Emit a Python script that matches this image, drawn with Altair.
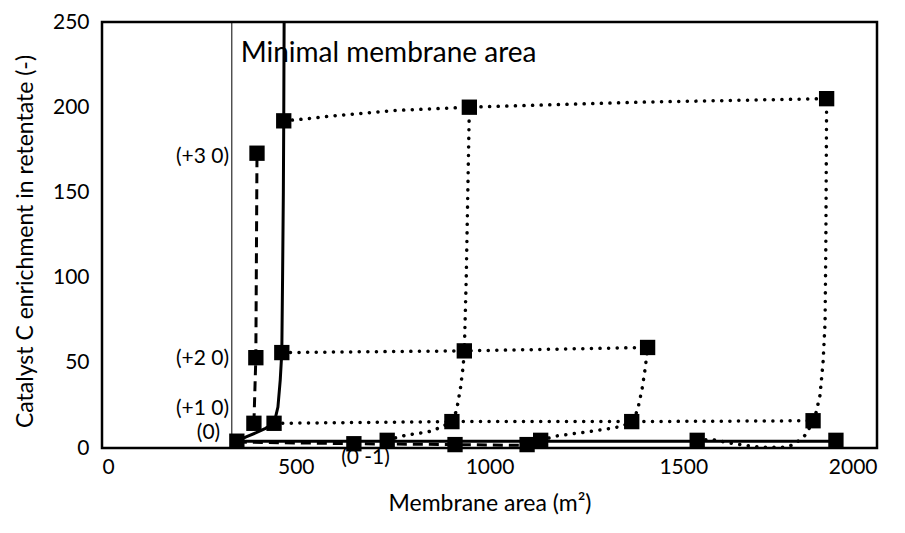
import altair as alt
import pandas as pd

FONT = "Lato"

# ---- line series (x = membrane area m², y = enrichment) ----
minimal_x = [348, 372, 398, 422, 444, 454, 460, 464, 466, 468, 469, 470]
minimal_y = [4, 6.5, 9, 11.5, 14.5, 24, 40, 56, 100, 150, 192, 250]

base_x = [348, 736, 1132, 1536, 1894]          # solid bottom line
base_y = [4, 4, 4, 4, 4]

minus_x = [348, 650, 911, 1097]                 # dashed bottom line (0 -1 ...)
minus_y = [3.5, 2.5, 2, 1.5]

plus_x = [392, 397, 400]                        # dashed vertical (+1 0)...(+3 0)
plus_y = [14.5, 53, 173]

row15_x = [444, 903, 1367, 1835]
row15_y = [14.5, 15.5, 15.5, 16]
row55_x = [464, 935, 1408]
row55_y = [56, 57, 59]
row200_x = [469, 520, 600, 750, 948, 1400, 1870]
row200_y = [192, 193, 195, 198, 200, 203, 205]

col1_x = [736, 774, 797, 818, 839, 857, 880, 903, 915, 925, 932, 935, 940, 944, 948]
col1_y = [4.5, 7, 8, 8.7, 9.3, 10.5, 12.8, 15.5, 22, 35, 48, 57, 100, 150, 200]
col2_x = [1132, 1171, 1220, 1270, 1320, 1342, 1367, 1382, 1394, 1402, 1408]
col2_y = [4.5, 7, 8.5, 10, 11.8, 12.8, 15.5, 22, 35, 47, 59]
col3_x = [1536, 1574, 1618, 1660, 1700, 1760, 1786, 1817, 1835, 1843, 1853, 1861, 1866, 1868, 1870]
col3_y = [4.5, 5, 3, 1.5, 0.4, 0.4, 2, 8, 16, 21, 31, 51, 74, 120, 205]

# ---- square markers ----
sq_x = [348, 650, 736, 911, 1097, 1132, 1536, 1894,
        392, 397, 400,
        444, 464, 469,
        903, 1367, 1835,
        935, 1408,
        948, 1870]
sq_y = [4, 2.5, 4.5, 2, 2, 4.5, 4.5, 4.5,
        14.5, 53, 173,
        14.5, 56, 192,
        15.5, 15.5, 16,
        57, 59,
        200, 205]

# minimal membrane area reference line
min_area = [335]

# annotations
ann_text = ["(+3 0)", "(+2 0)", "(+1 0)", "(0)"]
ann_x = [328, 328, 328, 305]
ann_y = [171, 52, 23, 9]
ann2_text = ["(0 -1)"]
ann2_x = [680]
ann2_y = [-6]
title_text = ["Minimal membrane area"]
title_x = [358]
title_y = [231]


def frame(xs, ys, name):
    return pd.DataFrame({"x": xs, "y": ys, "s": name, "o": list(range(len(xs)))})


solid_df = pd.concat([frame(minimal_x, minimal_y, "min"), frame(base_x, base_y, "base")])
dashed_df = pd.concat([frame(minus_x, minus_y, "minus"), frame(plus_x, plus_y, "plus")])
dotted_df = pd.concat([
    frame(row15_x, row15_y, "r15"), frame(row55_x, row55_y, "r55"),
    frame(row200_x, row200_y, "r200"), frame(col1_x, col1_y, "c1"),
    frame(col2_x, col2_y, "c2"), frame(col3_x, col3_y, "c3"),
])
sq_df = pd.DataFrame({"x": sq_x, "y": sq_y})
rule_df = pd.DataFrame({"x": min_area})
ann_df = pd.DataFrame({"t": ann_text, "x": ann_x, "y": ann_y})
ann2_df = pd.DataFrame({"t": ann2_text, "x": ann2_x, "y": ann2_y})
title_df = pd.DataFrame({"t": title_text, "x": title_x, "y": title_y})

H = 426
xs = alt.Scale(domain=[0, 2000], nice=False, zero=False)
ys = alt.Scale(domain=[0, 250], nice=False, zero=False)

X = alt.X("x:Q", scale=xs, title="Membrane area (m²)",
          axis=alt.Axis(values=[0, 500, 1000, 1500, 2000], format="d",
                        titleY=55, titleBaseline="middle"))
Y = alt.Y("y:Q", scale=ys, title="Catalyst C enrichment in retentate  (-)",
          axis=alt.Axis(values=[0, 50, 100, 150, 200, 250], format="d", titleX=-77,
                        titleBaseline="middle", titleY=219))

rule = alt.Chart(rule_df).mark_rule(color="black", strokeWidth=1).encode(
    x=alt.X("x:Q", scale=xs), y=alt.value(0), y2=alt.value(H))

solid = alt.Chart(solid_df).mark_line(color="black", strokeWidth=3, clip=True).encode(
    x=X, y=Y, detail="s:N", order="o:Q")
dashed = alt.Chart(dashed_df).mark_line(color="black", strokeWidth=3, strokeDash=[10, 6]).encode(
    x=alt.X("x:Q", scale=xs), y=alt.Y("y:Q", scale=ys), detail="s:N", order="o:Q")
dotted = alt.Chart(dotted_df).mark_line(color="black", strokeWidth=3.5, strokeDash=[0.1, 8.5],
                                        strokeCap="round", clip=True).encode(
    x=alt.X("x:Q", scale=xs), y=alt.Y("y:Q", scale=ys), detail="s:N", order="o:Q")
squares = alt.Chart(sq_df).mark_square(color="black", size=235, opacity=1, filled=True).encode(
    x=alt.X("x:Q", scale=xs), y=alt.Y("y:Q", scale=ys))
ann = alt.Chart(ann_df).mark_text(align="right", baseline="middle", font=FONT, fontSize=21,
                                  color="black").encode(
    x=alt.X("x:Q", scale=xs), y=alt.Y("y:Q", scale=ys), text="t:N")
ann2 = alt.Chart(ann2_df).mark_text(align="center", baseline="middle", font=FONT, fontSize=21,
                                    color="black").encode(
    x=alt.X("x:Q", scale=xs), y=alt.Y("y:Q", scale=ys), text="t:N")
ttl = alt.Chart(title_df).mark_text(align="left", baseline="middle", font=FONT, fontSize=28,
                                    color="black").encode(
    x=alt.X("x:Q", scale=xs), y=alt.Y("y:Q", scale=ys), text="t:N")

chart = alt.layer(rule, dotted, dashed, solid, squares, ann, ann2, ttl).properties(
    width=775, height=H,
    autosize=alt.AutoSizeParams(type="none"),
    padding={"left": 94, "top": 14, "right": 20, "bottom": 70},
    background="white",
).configure_view(
    stroke="black", strokeWidth=2.5
).configure_axis(
    grid=False, ticks=False, domain=False,
    labelFont=FONT, labelFontSize=21, labelColor="black",
    titleFont=FONT, titleFontSize=23, titleColor="black", titleFontWeight="normal",
).configure_axisY(labelPadding=13).configure_axisX(labelPadding=8)

chart.save("out.html", embed_options={"renderer": "svg", "actions": False})
